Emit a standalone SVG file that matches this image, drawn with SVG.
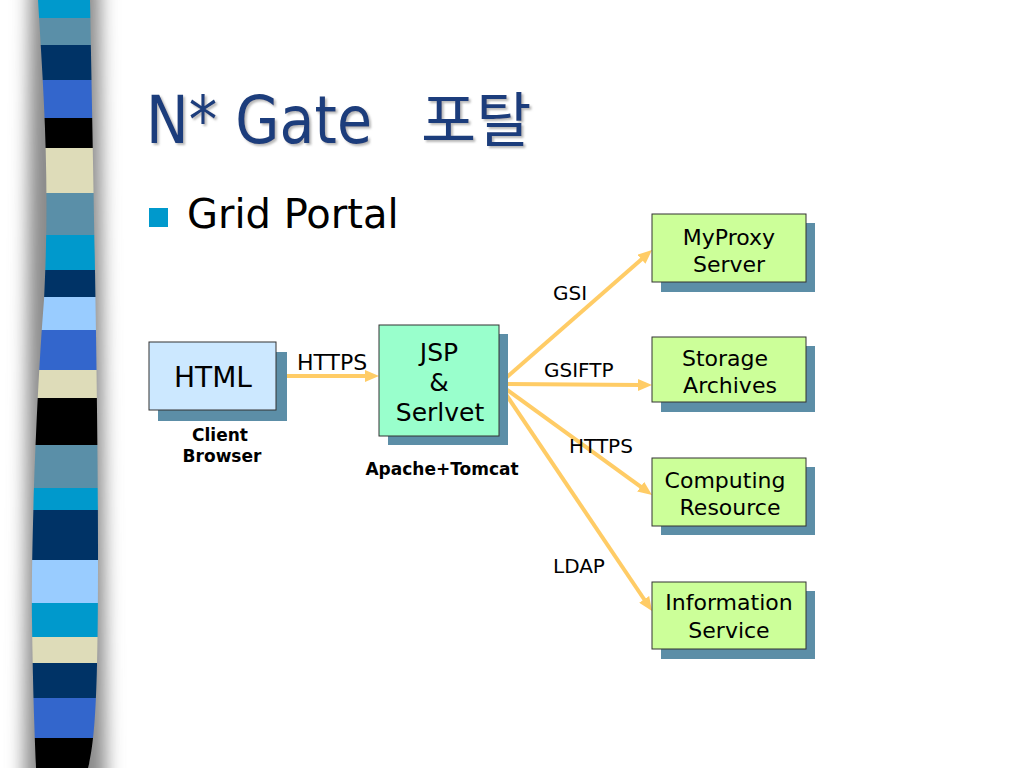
<svg xmlns="http://www.w3.org/2000/svg" width="1024" height="768" viewBox="0 0 1024 768">
<defs>
<style>
.t{font-family:"DejaVu Sans","Liberation Sans",sans-serif;fill:#000}
.lbl{font-size:20px}
.nt{font-size:22px;text-anchor:middle}
.cap{font-size:17px;font-weight:bold;text-anchor:middle}
.box{stroke:#333;stroke-width:1}
.sh{fill:#5C8EA7}
.con{stroke:#FFCC66;stroke-width:4;fill:none;marker-end:url(#ah)}
.ttl{fill:#1E3E7B;filter:url(#tshadow)}
</style>
<marker id="ah" viewBox="0 0 14 12" refX="2" refY="6" markerWidth="14" markerHeight="12" markerUnits="userSpaceOnUse" orient="auto">
<path d="M0,0 L14,6 L0,12 z" fill="#FFCC66"/>
</marker>
<clipPath id="stripClip">
<path d="M38,0 C44,100 50,180 44,300 C36,400 31,550 32,620 C33,700 35,740 36,768 L88,768 C96,740 98,680 98,560 C98,420 95,260 90,0 Z"/>
</clipPath>
<filter id="blur" x="-50%" y="-10%" width="200%" height="120%">
<feGaussianBlur stdDeviation="9"/>
</filter>
<filter id="tshadow" x="-10%" y="-20%" width="120%" height="140%">
<feDropShadow dx="2" dy="2" stdDeviation="0.8" flood-color="#888" flood-opacity="0.6"/>
</filter>
</defs>
<rect width="1024" height="768" fill="#fff"/>
<g id="sidebar">
<path d="M30,-20 L100,-20 L106,790 L24,790 Z" fill="#8a8a8a" filter="url(#blur)"/>
<g clip-path="url(#stripClip)">
<rect x="20" y="0" width="90" height="18" fill="#0099CC"/>
<rect x="20" y="18" width="90" height="27" fill="#5A8FA8"/>
<rect x="20" y="45" width="90" height="35" fill="#003366"/>
<rect x="20" y="80" width="90" height="38" fill="#3366CC"/>
<rect x="20" y="118" width="90" height="30" fill="#000"/>
<rect x="20" y="148" width="90" height="45" fill="#DEDCB9"/>
<rect x="20" y="193" width="90" height="42" fill="#5A8FA8"/>
<rect x="20" y="235" width="90" height="35" fill="#0099CC"/>
<rect x="20" y="270" width="90" height="27" fill="#003366"/>
<rect x="20" y="297" width="90" height="33" fill="#99CCFF"/>
<rect x="20" y="330" width="90" height="40" fill="#3366CC"/>
<rect x="20" y="370" width="90" height="28" fill="#DEDCB9"/>
<rect x="20" y="398" width="90" height="47" fill="#000"/>
<rect x="20" y="445" width="90" height="43" fill="#5A8FA8"/>
<rect x="20" y="488" width="90" height="22" fill="#0099CC"/>
<rect x="20" y="510" width="90" height="50" fill="#003366"/>
<rect x="20" y="560" width="90" height="43" fill="#99CCFF"/>
<rect x="20" y="603" width="90" height="34" fill="#0099CC"/>
<rect x="20" y="637" width="90" height="26" fill="#DEDCB9"/>
<rect x="20" y="663" width="90" height="35" fill="#003366"/>
<rect x="20" y="698" width="90" height="40" fill="#3366CC"/>
<rect x="20" y="738" width="90" height="30" fill="#000"/>
</g>
</g>
<g id="title">
<text class="ttl" x="146" y="143" font-family="DejaVu Sans,sans-serif" font-size="66" textLength="226" lengthAdjust="spacingAndGlyphs">N* Gate</text>
<text class="ttl" x="421" y="142" font-family="Noto Sans CJK KR,sans-serif" font-size="60">포탈</text>
</g>
<g id="bullet">
<rect x="149" y="208" width="19" height="19" fill="#0099CC"/>
<text class="t" x="187" y="228" font-size="40">Grid Portal</text>
</g>
<g id="connectors">
<line class="con" x1="277" y1="376" x2="367" y2="376"/>
<line class="con" x1="499" y1="384" x2="643" y2="257.9"/>
<line class="con" x1="499" y1="384" x2="640" y2="385"/>
<line class="con" x1="499" y1="384" x2="642.3" y2="487.9"/>
<line class="con" x1="499" y1="384" x2="645.3" y2="601"/>
<text class="t" x="297" y="370" style="font-size:22px">HTTPS</text>
<text class="t lbl" x="553" y="300">GSI</text>
<text class="t lbl" x="544" y="377">GSIFTP</text>
<text class="t lbl" x="569" y="453">HTTPS</text>
<text class="t lbl" x="553" y="573">LDAP</text>
</g>
<g id="html">
<rect class="sh" x="158" y="352" width="129" height="69"/>
<rect class="box" x="149" y="342" width="127" height="68" fill="#CCE8FF"/>
<text class="t" x="213" y="387" font-size="28" text-anchor="middle">HTML</text>
<text class="t cap" x="220" y="441">Client</text>
<text class="t cap" x="222" y="462">Browser</text>
</g>
<g id="jsp">
<rect class="sh" x="388" y="334" width="120" height="111"/>
<rect class="box" x="379" y="325" width="120" height="111" fill="#99FFCC"/>
<text class="t" x="439" y="361" font-size="25" text-anchor="middle">JSP</text>
<text class="t" x="439" y="391" font-size="25" text-anchor="middle">&amp;</text>
<text class="t" x="440" y="421" font-size="25" text-anchor="middle">Serlvet</text>
<text class="t cap" x="442" y="475">Apache+Tomcat</text>
</g>
<g id="myproxy">
<rect class="sh" x="661" y="223" width="154" height="69"/>
<rect class="box" x="652" y="214" width="154" height="68" fill="#CCFF99"/>
<text class="t nt" x="729" y="245">MyProxy</text>
<text class="t nt" x="729" y="272">Server</text>
</g>
<g id="storage">
<rect class="sh" x="661" y="346" width="154" height="66"/>
<rect class="box" x="652" y="337" width="154" height="65" fill="#CCFF99"/>
<text class="t nt" x="725" y="366">Storage</text>
<text class="t nt" x="730" y="393">Archives</text>
</g>
<g id="computing">
<rect class="sh" x="661" y="467" width="154" height="68"/>
<rect class="box" x="652" y="458" width="154" height="68" fill="#CCFF99"/>
<text class="t nt" x="725" y="488">Computing</text>
<text class="t nt" x="730" y="515">Resource</text>
</g>
<g id="information">
<rect class="sh" x="661" y="591" width="154" height="68"/>
<rect class="box" x="652" y="582" width="154" height="67" fill="#CCFF99"/>
<text class="t nt" x="729" y="610">Information</text>
<text class="t nt" x="729" y="638">Service</text>
</g>
</svg>
